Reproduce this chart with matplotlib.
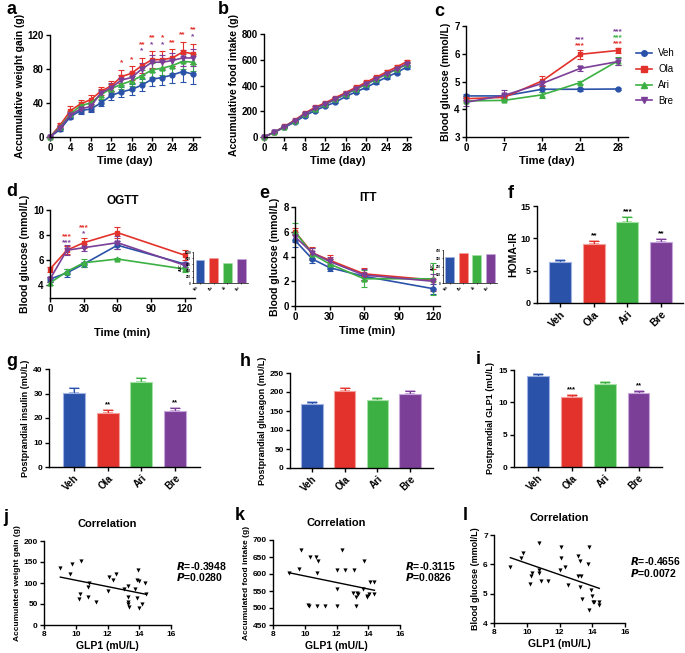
import numpy as np
import matplotlib
matplotlib.use("Agg")
import matplotlib.pyplot as plt
from matplotlib.lines import Line2D

W, H = 685, 653

plt.rcParams["font.family"] = ["Liberation Sans", "DejaVu Sans"]
plt.rcParams["font.weight"] = "bold"
plt.rcParams["axes.labelweight"] = "bold"
plt.rcParams["axes.linewidth"] = 1.0

groups = ["Veh", "Ola", "Ari", "Bre"]
colors = ["#2a52a8", "#e3322b", "#3cb043", "#7b3f98"]
edge_colors = ["#9fb2e2", "#f3a09c", "#a6e0a6", "#c9a6dc"]
markers = ["o", "s", "^", "v"]

# a: accumulative weight gain
days = [0, 2, 4, 6, 8, 10, 12, 14, 16, 18, 20, 22, 24, 26, 28]
weight_veh = [0, 9, 24, 31, 33, 40, 49, 53, 56, 61, 68, 70, 73, 77, 74]
weight_ola = [0, 14, 31, 39, 44, 54, 60, 71, 75, 84, 91, 91, 93, 100, 98]
weight_ari = [0, 12, 27, 37, 40, 50, 57, 62, 66, 72, 79, 81, 84, 89, 88]
weight_bre = [0, 11, 26, 33, 36, 52, 58, 67, 70, 80, 88, 88, 90, 93, 93]
weight_veh_err = [0, 2, 3, 4, 4, 4, 5, 6, 6, 7, 8, 9, 10, 12, 12]
weight_ola_err = [0, 2, 5, 5, 5, 5, 6, 8, 8, 9, 10, 10, 10, 12, 12]
weight_ari_err = [0, 2, 4, 4, 4, 5, 5, 6, 6, 7, 8, 8, 9, 9, 10]
weight_bre_err = [0, 2, 4, 5, 5, 5, 5, 6, 6, 7, 8, 8, 9, 9, 10]
weight_stars_ola = ["", "", "", "", "", "", "", "*", "*", "**", "**", "*", "**", "**", "**"]
weight_stars_bre = ["", "", "", "", "", "", "", "", "", "*", "*", "*", "", "", "*"]

# b: accumulative food intake
food_veh = [0, 35, 75, 115, 165, 205, 240, 270, 315, 350, 385, 425, 465, 500, 545]
food_ola = [0, 38, 82, 130, 185, 230, 265, 305, 345, 385, 425, 465, 505, 545, 585]
food_ari = [0, 37, 80, 125, 178, 220, 255, 292, 333, 370, 408, 448, 488, 525, 565]
food_bre = [0, 37, 80, 126, 180, 222, 258, 295, 337, 375, 413, 453, 492, 530, 570]
food_err = [0, 3, 4, 5, 6, 7, 7, 8, 9, 10, 10, 11, 12, 12, 13]

# c: blood glucose
weeks = [0, 7, 14, 21, 28]
glu_veh = [4.48, 4.48, 4.72, 4.72, 4.73]
glu_ola = [4.38, 4.43, 5.02, 5.98, 6.12]
glu_ari = [4.30, 4.32, 4.52, 4.96, 5.75]
glu_bre = [4.25, 4.50, 4.93, 5.47, 5.72]
glu_veh_err = [0.08, 0.08, 0.10, 0.06, 0.05]
glu_ola_err = [0.10, 0.05, 0.18, 0.17, 0.10]
glu_ari_err = [0.05, 0.04, 0.10, 0.05, 0.15]
glu_bre_err = [0.15, 0.18, 0.06, 0.10, 0.12]
glu_stars = [["", "", "", "", ""], ["", "", "", "***", "***"],
             ["", "", "", "", "***"], ["", "", "", "***", "***"]]

# d: OGTT
minutes = [0, 15, 30, 60, 120]
ogtt_veh = [4.5, 5.0, 5.7, 7.2, 5.7]
ogtt_ola = [5.3, 6.8, 7.4, 8.2, 6.4]
ogtt_ari = [4.2, 5.1, 5.8, 6.1, 5.3]
ogtt_bre = [4.5, 6.8, 7.0, 7.4, 5.6]
ogtt_veh_err = [0.2, 0.3, 0.2, 0.3, 0.2]
ogtt_ola_err = [0.2, 0.3, 0.4, 0.45, 0.4]
ogtt_ari_err = [0.15, 0.2, 0.3, 0.1, 0.2]
ogtt_bre_err = [0.2, 0.4, 0.3, 0.5, 0.2]
ogtt_stars_ola = ["", "***", "***", "", ""]
ogtt_stars_bre = ["", "***", "*", "", ""]
ogtt_auc = [740, 810, 660, 790]

# e: ITT
itt_veh = [5.3, 3.8, 3.1, 2.4, 1.4]
itt_ola = [6.0, 4.3, 3.7, 2.6, 2.1]
itt_ari = [6.0, 4.2, 3.4, 2.2, 2.2]
itt_bre = [5.6, 4.3, 3.6, 2.5, 2.0]
itt_veh_err = [0.5, 0.3, 0.3, 0.3, 0.4]
itt_ola_err = [0.3, 0.5, 0.4, 0.5, 0.9]
itt_ari_err = [0.7, 0.5, 0.4, 0.7, 1.3]
itt_bre_err = [0.4, 0.4, 0.4, 0.5, 0.6]
itt_auc = [312, 360, 340, 352]

# f-i: bar panels
homa = [6.4, 9.1, 12.5, 9.4]
homa_err = [0.3, 0.5, 0.8, 0.5]
homa_stars = ["", "**", "***", "**"]
insulin = [30.4, 21.9, 34.5, 22.7]
insulin_err = [1.7, 1.4, 1.8, 1.3]
insulin_stars = ["", "**", "", "**"]
glucagon = [169, 202, 178, 196]
glucagon_err = [5, 8, 6, 6]
glp1 = [14.0, 10.8, 12.9, 11.4]
glp1_err = [0.4, 0.3, 0.3, 0.4]
glp1_stars = ["", "***", "", "**"]

# j-l: correlations
j_glp1 = [9.03, 9.66, 9.79, 10.34, 10.25, 10.21, 10.84, 10.78, 10.80, 11.30,
          12.10, 12.06, 12.36, 12.52, 13.05, 13.26, 13.26, 13.30, 13.28, 13.37,
          13.73, 13.84, 13.92, 13.97, 13.88, 14.00, 14.15, 14.38, 14.42]
j_weight = [136, 122, 146, 152, 73, 61, 100, 91, 66, 55,
            115, 81, 107, 121, 85, 92, 67, 55, 51, 42,
            85, 108, 132, 105, 65, 41, 51, 100, 73]
k_glp1 = [9.00, 9.65, 9.78, 10.30, 10.18, 10.26, 10.72, 10.85, 10.76, 10.80,
          11.29, 12.02, 12.02, 12.06, 12.34, 12.55, 13.11, 13.03, 13.27, 13.23,
          13.23, 13.34, 13.76, 13.70, 13.90, 13.95, 14.07, 14.12, 14.39, 14.37]
k_food = [604, 614, 671, 651, 509, 507, 651, 638, 604, 507,
          507, 611, 507, 556, 671, 611, 611, 545, 543, 531,
          507, 541, 638, 555, 535, 533, 541, 577, 577, 541]
l_glp1 = [9.00, 9.63, 9.78, 10.18, 10.24, 10.35, 10.76, 10.73, 10.73, 10.86,
          11.30, 12.08, 12.08, 12.02, 12.33, 12.53, 13.14, 13.10, 13.24, 13.29,
          13.24, 13.35, 13.76, 13.82, 13.82, 13.92, 13.96, 14.02, 14.12, 14.41, 14.43]
l_glucose = [5.90, 6.21, 6.40, 5.33, 5.61, 5.72, 6.72, 5.81, 5.72, 5.42,
             5.42, 6.60, 6.21, 5.81, 5.90, 5.30, 6.29, 5.61, 6.10, 5.61,
             5.22, 4.82, 6.02, 6.60, 4.43, 5.11, 4.93, 4.70, 4.70, 4.62, 4.70]
corr_text = [("-0.3948", "0.0280"), ("-0.3115", "0.0826"), ("-0.4656", "0.0072")]


def add_ax(fig, left, top, right, bottom):
    ax = fig.add_axes([left / W, 1 - bottom / H, (right - left) / W, (bottom - top) / H])
    ax.spines["top"].set_visible(False)
    ax.spines["right"].set_visible(False)
    ax.tick_params(direction="out", length=3, width=1, pad=1.5)
    return ax


def style_ticks(ax, size):
    for lab in ax.get_xticklabels() + ax.get_yticklabels():
        lab.set_fontsize(size)
        lab.set_fontweight("bold")


def draw_lines(ax, x, means, errs, ms=3.5, lw=1.2):
    for m, e, c, mk in zip(means, errs, colors, markers):
        ax.errorbar(x, m, yerr=e, color=c, marker=mk, ms=ms, lw=lw,
                    capsize=2, elinewidth=0.8, capthick=0.8, clip_on=False)


def draw_bars(ax, vals, errs, stars=None, star_size=5.5, star_gap=0.02):
    x = np.arange(len(vals))
    ax.bar(x, vals, width=0.65, color=colors, edgecolor=edge_colors, linewidth=0.8, zorder=2)
    span = ax.get_ylim()[1] - ax.get_ylim()[0]
    for i, (v, e) in enumerate(zip(vals, errs)):
        ax.errorbar(x[i], v, yerr=[[0], [e]], fmt="none", ecolor=edge_colors[i],
                    capsize=3.5, elinewidth=1.2, capthick=1.2, zorder=1)
        ax.errorbar(x[i], v, yerr=[[0], [e]], fmt="none", ecolor=colors[i],
                    capsize=3.5, elinewidth=0.8, capthick=0.8, zorder=1)
        if stars and stars[i]:
            ax.text(x[i], v + e + star_gap * span, stars[i], ha="center", va="bottom",
                    fontsize=star_size, color="black")
    ax.set_xticks(x)
    ax.set_xticklabels(groups, rotation=45, ha="right", rotation_mode="anchor")


def panel_label(fig, x, y, s):
    fig.text(x / W, 1 - y / H, s, fontsize=13, fontweight="bold", ha="left", va="center")


fig = plt.figure(figsize=(W / 100, H / 100), dpi=100)

# ---- a
ax = add_ax(fig, 50, 35, 200, 137)
draw_lines(ax, days, [weight_veh, weight_ola, weight_ari, weight_bre],
           [weight_veh_err, weight_ola_err, weight_ari_err, weight_bre_err])
ax.set_xlim(0, 29.4)
ax.set_ylim(0, 120)
ax.set_xticks(range(0, 29, 4))
ax.set_yticks([0, 40, 80, 120])
top = np.array(weight_ola) + np.array(weight_ola_err)
for i, d in enumerate(days):
    base = top[i] + 4
    if weight_stars_bre[i]:
        ax.text(d, base, weight_stars_bre[i], color=colors[3], ha="center", va="bottom", fontsize=6)
        base += 8
    if weight_stars_ola[i]:
        ax.text(d, base, weight_stars_ola[i], color=colors[1], ha="center", va="bottom", fontsize=6)
ax.set_xlabel("Time (day)", fontsize=8, labelpad=2)
ax.set_ylabel("Accumulative weight gain (g)", fontsize=7.5, labelpad=2)
style_ticks(ax, 7)

# ---- b
ax = add_ax(fig, 264, 34, 411, 137)
draw_lines(ax, days, [food_veh, food_ola, food_ari, food_bre], [food_err] * 4)
ax.set_xlim(0, 28.8)
ax.set_ylim(0, 800)
ax.set_xticks(range(0, 29, 4))
ax.set_yticks(range(0, 801, 200))
ax.set_xlabel("Time (day)", fontsize=8, labelpad=2)
ax.set_ylabel("Accumulative food intake (g)", fontsize=7.5, labelpad=2)
style_ticks(ax, 7)

# ---- c
ax = add_ax(fig, 466, 26, 628, 137)
draw_lines(ax, weeks, [glu_veh, glu_ola, glu_ari, glu_bre],
           [glu_veh_err, glu_ola_err, glu_ari_err, glu_bre_err])
ax.set_xlim(0, 29.8)
ax.set_ylim(3, 7)
ax.set_xticks(weeks)
ax.set_yticks([3, 4, 5, 6, 7])
top_c = np.array(glu_ola) + np.array(glu_ola_err)
for i, w in enumerate(weeks):
    base = max(top_c[i], glu_ari[i] + glu_ari_err[i]) + 0.02
    for g in [1, 2, 3]:
        if glu_stars[g][i]:
            ax.text(w, base, glu_stars[g][i], color=colors[g], ha="center", va="bottom", fontsize=6)
            base += 0.22
ax.set_xlabel("Time (day)", fontsize=8, labelpad=2)
ax.set_ylabel("Blood glucose (mmol/L)", fontsize=7.5, labelpad=2)
style_ticks(ax, 7)
handles = [Line2D([], [], color=c, marker=mk, lw=1.2, ms=4) for c, mk in zip(colors, markers)]
fig.legend(handles, groups, loc="center left", bbox_to_anchor=(636 / W, 1 - 77 / H),
           frameon=False, handlelength=1.6, handletextpad=0.7, borderpad=0,
           borderaxespad=0, labelspacing=0.6, prop={"weight": "normal", "size": 7})

# ---- d
ax = add_ax(fig, 50, 210, 195, 298)
draw_lines(ax, minutes, [ogtt_veh, ogtt_ola, ogtt_ari, ogtt_bre],
           [ogtt_veh_err, ogtt_ola_err, ogtt_ari_err, ogtt_bre_err])
ax.set_xlim(0, 129)
ax.set_ylim(3, 10)
ax.set_xticks(range(0, 121, 30))
ax.set_yticks([4, 6, 8, 10])
top_d = np.array(ogtt_ola) + np.array(ogtt_ola_err)
for i, t in enumerate(minutes):
    base = top_d[i] + 0.05
    if ogtt_stars_bre[i]:
        ax.text(t, base, ogtt_stars_bre[i], color=colors[3], ha="center", va="bottom", fontsize=6)
        base += 0.45
    if ogtt_stars_ola[i]:
        ax.text(t, base, ogtt_stars_ola[i], color=colors[1], ha="center", va="bottom", fontsize=6)
ax.set_title("OGTT", fontsize=8.5, fontweight="bold", pad=4)
ax.set_xlabel("Time (min)", fontsize=8, labelpad=10)
ax.set_ylabel("Blood glucose (mmol/L)", fontsize=7.5, labelpad=2)
style_ticks(ax, 7)

ins = add_ax(fig, 193, 252, 248, 283)
ins.bar(range(4), ogtt_auc, width=0.65, color=colors, edgecolor=edge_colors, linewidth=0.4)
ins.set_ylim(0, 1000)
ins.set_yticks(range(0, 1001, 200))
ins.set_xticks(range(4))
ins.set_xticklabels(groups, rotation=45, ha="right")
ins.set_ylabel("AUC", fontsize=2.5, labelpad=1)
ins.tick_params(length=1, width=0.5, pad=0.5)
for s in ins.spines.values():
    s.set_linewidth(0.5)
style_ticks(ins, 2.2)

# ---- e
ax = add_ax(fig, 295, 207, 440, 306)
draw_lines(ax, minutes, [itt_veh, itt_ola, itt_ari, itt_bre],
           [itt_veh_err, itt_ola_err, itt_ari_err, itt_bre_err])
ax.set_xlim(0, 126)
ax.set_ylim(0, 8)
ax.set_xticks(range(0, 121, 30))
ax.set_yticks(range(0, 9, 2))
ax.set_title("ITT", fontsize=8.5, fontweight="bold", pad=4)
ax.set_xlabel("Time (min)", fontsize=8, labelpad=3)
ax.set_ylabel("Blood glucose (mmol/L)", fontsize=7.5, labelpad=2)
style_ticks(ax, 7)

ins = add_ax(fig, 443, 250, 497, 283)
ins.bar(range(4), itt_auc, width=0.65, color=colors, edgecolor=edge_colors, linewidth=0.4)
ins.set_ylim(0, 400)
ins.set_yticks(range(0, 401, 100))
ins.set_xticks(range(4))
ins.set_xticklabels(groups, rotation=45, ha="right")
ins.set_ylabel("AUC", fontsize=2.5, labelpad=1)
ins.tick_params(length=1, width=0.5, pad=0.5)
for s in ins.spines.values():
    s.set_linewidth(0.5)
style_ticks(ins, 2.2)

# ---- f
ax = add_ax(fig, 537, 206, 683, 303)
ax.set_ylim(0, 15)
draw_bars(ax, homa, homa_err, homa_stars, star_size=6)
ax.set_xlim(-0.685, 3.65)
ax.set_yticks([0, 5, 10, 15])
ax.set_ylabel("HOMA-IR", fontsize=7.5, labelpad=2)
style_ticks(ax, 6.5)
for lab in ax.get_xticklabels():
    lab.set_fontsize(7.5)

# ---- g
ax = add_ax(fig, 49, 369, 200, 467)
ax.set_ylim(0, 40)
draw_bars(ax, insulin, insulin_err, insulin_stars)
ax.set_xlim(-0.74, 3.74)
ax.set_yticks(range(0, 41, 10))
ax.set_ylabel("Postprandial insulin (mU/L)", fontsize=6.5, labelpad=2)
style_ticks(ax, 6)
for lab in ax.get_xticklabels():
    lab.set_fontsize(7)

# ---- h
ax = add_ax(fig, 290, 373, 433, 468)
ax.set_ylim(0, 250)
draw_bars(ax, glucagon, glucagon_err)
ax.set_xlim(-0.67, 3.7)
ax.set_yticks(range(0, 251, 50))
ax.set_ylabel("Postprandial glucagon (mU/L)", fontsize=6.5, labelpad=2)
style_ticks(ax, 6)
for lab in ax.get_xticklabels():
    lab.set_fontsize(7)

# ---- i
ax = add_ax(fig, 514, 370, 662, 467)
ax.set_ylim(0, 15)
draw_bars(ax, glp1, glp1_err, glp1_stars)
ax.set_xlim(-0.72, 3.7)
ax.set_yticks([0, 5, 10, 15])
ax.set_ylabel("Postprandial GLP1 (mU/L)", fontsize=6.5, labelpad=2)
style_ticks(ax, 6)
for lab in ax.get_xticklabels():
    lab.set_fontsize(7)


# ---- j, k, l
def draw_corr(ax, x, y, rtxt):
    ax.scatter(x, y, marker="v", s=9, color="black", linewidths=0, zorder=3)
    slope, intercept = np.polyfit(x, y, 1)
    xs = np.array([min(x), max(x)])
    ax.plot(xs, slope * xs + intercept, color="black", lw=1)
    ax.set_xlim(8, 16)
    ax.set_xticks([8, 10, 12, 14, 16])
    ax.set_title("Correlation", fontsize=8, fontweight="bold", pad=10)
    ax.set_xlabel("GLP1 (mU/L)", fontsize=7.5, labelpad=2)
    ax.text(1.04, 0.70, f"$\\bfit{{R}}$=" + rtxt[0], transform=ax.transAxes,
            fontsize=7.5, ha="left", va="center")
    ax.text(1.04, 0.57, f"$\\bfit{{P}}$=" + rtxt[1], transform=ax.transAxes,
            fontsize=7.5, ha="left", va="center")


ax = add_ax(fig, 44, 541, 171, 625)
ax.set_ylim(0, 200)
ax.set_yticks(range(0, 201, 50))
draw_corr(ax, j_glp1, j_weight, corr_text[0])
ax.set_ylabel("Accumulated weight gain (g)", fontsize=6, labelpad=2)
style_ticks(ax, 6)

ax = add_ax(fig, 273, 540, 400, 625)
ax.set_ylim(450, 700)
ax.set_yticks(range(450, 701, 50))
draw_corr(ax, k_glp1, k_food, corr_text[1])
ax.set_ylabel("Accumulated food intake (g)", fontsize=6, labelpad=2)
style_ticks(ax, 6)

ax = add_ax(fig, 494, 535, 625, 623)
ax.set_ylim(4, 7)
ax.set_yticks([4, 5, 6, 7])
draw_corr(ax, l_glp1, l_glucose, corr_text[2])
ax.set_ylabel("Blood glucose (mmol/L)", fontsize=6.5, labelpad=2)
style_ticks(ax, 6)

# panel letters
for x, y, s in [(6, 10, "a"), (218, 10, "b"), (434, 12, "c"), (6, 192, "d"),
                (259, 194, "e"), (508, 193, "f"), (6, 362, "g"), (240, 361, "h"),
                (476, 359, "i"), (3, 517, "j"), (235, 516, "k"), (463, 515, "l")]:
    panel_label(fig, x, y, s)

fig.savefig("out.png", dpi=100)
